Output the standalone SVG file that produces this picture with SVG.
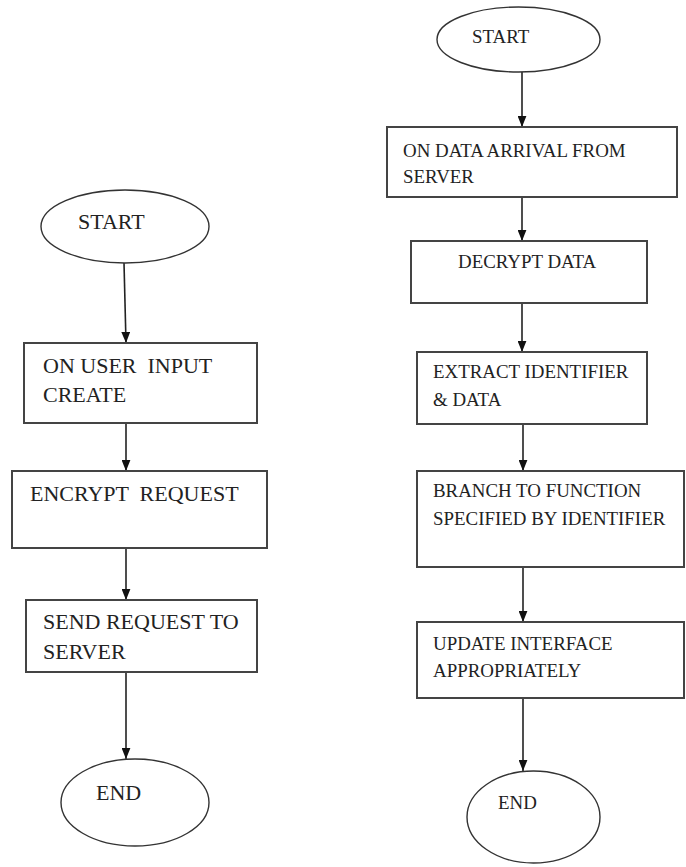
<svg xmlns="http://www.w3.org/2000/svg" width="686" height="867" viewBox="0 0 686 867">
<style>
.box{fill:#fff;stroke:#444;stroke-width:2}
.ell{fill:#fff;stroke:#333;stroke-width:1.4}
.tl{font-family:"Liberation Serif","Times New Roman",serif;font-size:22px;fill:#222;white-space:pre}
.tr{font-family:"Liberation Serif","Times New Roman",serif;font-size:18.9px;fill:#222;white-space:pre}
.con{stroke:#222;stroke-width:1.6;fill:none;marker-end:url(#ah)}
</style>
<defs>
<marker id="ah" viewBox="0 0 10 8" refX="10" refY="4" markerWidth="11" markerHeight="9" markerUnits="userSpaceOnUse" orient="auto">
<path d="M0,0 L10,4 L0,8 z" fill="#111"/>
</marker>
</defs>
<rect width="686" height="867" fill="#fff"/>
<g id="connectors">
<line class="con" x1="124" y1="263" x2="126" y2="343"/>
<line class="con" x1="126" y1="423" x2="126" y2="471"/>
<line class="con" x1="126" y1="548" x2="126" y2="600"/>
<line class="con" x1="126" y1="672" x2="126" y2="759"/>
<line class="con" x1="522" y1="72" x2="522" y2="127"/>
<line class="con" x1="522" y1="197" x2="522" y2="241"/>
<line class="con" x1="522" y1="303" x2="522" y2="352"/>
<line class="con" x1="523" y1="424" x2="523" y2="471"/>
<line class="con" x1="523" y1="567" x2="523" y2="622"/>
<line class="con" x1="523" y1="698" x2="523" y2="771"/>
</g>
<g id="l-start">
<ellipse class="ell" cx="125" cy="226.5" rx="84" ry="36.5"/>
<text class="tl" x="78" y="229">START</text>
</g>
<g id="l-input">
<rect class="box" x="24" y="343" width="233" height="80"/>
<text class="tl" x="43" y="373">ON USER  INPUT</text>
<text class="tl" x="43" y="402">CREATE</text>
</g>
<g id="l-encrypt">
<rect class="box" x="12" y="471" width="255" height="77"/>
<text class="tl" x="30" y="501">ENCRYPT  REQUEST</text>
</g>
<g id="l-send">
<rect class="box" x="26" y="600" width="231" height="72"/>
<text class="tl" x="43" y="629">SEND REQUEST TO</text>
<text class="tl" x="43" y="659">SERVER</text>
</g>
<g id="l-end">
<ellipse class="ell" cx="135" cy="802.5" rx="74" ry="43.5"/>
<text class="tl" x="96" y="800">END</text>
</g>
<g id="r-start">
<ellipse class="ell" cx="518.5" cy="39.5" rx="81.5" ry="32.5"/>
<text class="tr" x="472" y="43">START</text>
</g>
<g id="r-arrival">
<rect class="box" x="387" y="127" width="290" height="70"/>
<text class="tr" x="403" y="157">ON DATA ARRIVAL FROM</text>
<text class="tr" x="403" y="183">SERVER</text>
</g>
<g id="r-decrypt">
<rect class="box" x="411" y="241" width="236" height="62"/>
<text class="tr" x="458" y="268">DECRYPT DATA</text>
</g>
<g id="r-extract">
<rect class="box" x="417" y="352" width="230" height="72"/>
<text class="tr" x="433" y="378">EXTRACT IDENTIFIER</text>
<text class="tr" x="433" y="406">&amp; DATA</text>
</g>
<g id="r-branch">
<rect class="box" x="417" y="471" width="267" height="96"/>
<text class="tr" x="433" y="497">BRANCH TO FUNCTION</text>
<text class="tr" x="433" y="525">SPECIFIED BY IDENTIFIER</text>
</g>
<g id="r-update">
<rect class="box" x="417" y="622" width="267" height="76"/>
<text class="tr" x="433" y="650">UPDATE INTERFACE</text>
<text class="tr" x="433" y="677">APPROPRIATELY</text>
</g>
<g id="r-end">
<ellipse class="ell" cx="533.5" cy="817" rx="66.5" ry="46"/>
<text class="tr" x="498" y="809">END</text>
</g>
</svg>
